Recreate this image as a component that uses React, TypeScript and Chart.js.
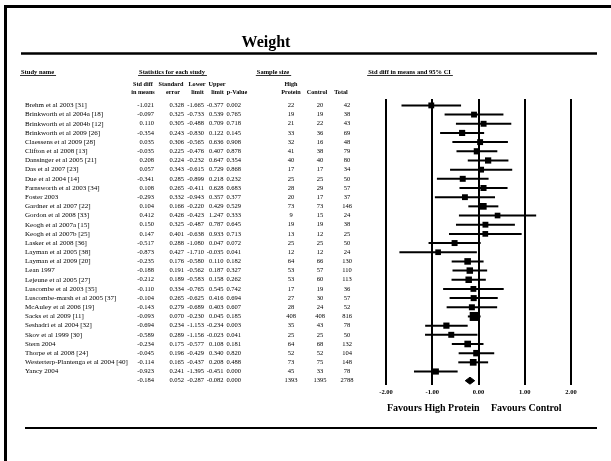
import React, { useEffect, useRef } from "react";
import { Chart, registerables } from "chart.js";

Chart.register(...registerables);

// ---------- data ----------
const studyNames = [
  "Brehm et al 2003 [31]",
  "Brinkworth et al 2004a [18]",
  "Brinkworth et al 2004b [12]",
  "Brinkworth et al 2009 [26]",
  "Claessens et al 2009 [28]",
  "Clifton et al 2008 [13]",
  "Dansinger et al 2005 [21]",
  "Das et al 2007 [23]",
  "Due et al 2004 [14]",
  "Farnsworth et al 2003 [34]",
  "Foster 2003",
  "Gardner et al 2007 [22]",
  "Gordon et al 2008 [33]",
  "Keogh et al 2007a [15]",
  "Keogh et al 2007b [25]",
  "Lasker et al 2008 [36]",
  "Layman et al 2005 [38]",
  "Layman et al 2009 [20]",
  "Lean 1997",
  "Lejeune et al 2005 [27]",
  "Luscombe et al 2003 [35]",
  "Luscombe-marsh et al 2005 [37]",
  "McAuley et al 2006 [19]",
  "Sacks et al 2009 [11]",
  "Seshadri et al 2004 [32]",
  "Skov et al 1999 [30]",
  "Stern 2004",
  "Thorpe et al 2008 [24]",
  "Westerterp-Plantenga et al 2004 [40]",
  "Yancy 2004",
];

const stdDiff = [
  -1.021, -0.097, 0.11, -0.354, 0.035, -0.035, 0.208, 0.057, -0.341, 0.108,
  -0.293, 0.104, 0.412, 0.15, 0.147, -0.517, -0.873, -0.235, -0.188, -0.212,
  -0.11, -0.104, -0.143, -0.093, -0.694, -0.589, -0.234, -0.045, -0.114, -0.923,
];
const stdErr = [
  0.328, 0.325, 0.305, 0.243, 0.306, 0.225, 0.224, 0.343, 0.285, 0.265,
  0.332, 0.166, 0.426, 0.325, 0.401, 0.288, 0.427, 0.176, 0.191, 0.189,
  0.334, 0.265, 0.279, 0.07, 0.234, 0.289, 0.175, 0.196, 0.165, 0.241,
];
const lowerLimit = [
  -1.665, -0.733, -0.488, -0.83, -0.565, -0.476, -0.232, -0.615, -0.899, -0.411,
  -0.943, -0.22, -0.423, -0.487, -0.638, -1.08, -1.71, -0.58, -0.562, -0.583,
  -0.765, -0.625, -0.689, -0.23, -1.153, -1.156, -0.577, -0.429, -0.437, -1.395,
];
const upperLimit = [
  -0.377, 0.539, 0.709, 0.122, 0.636, 0.407, 0.647, 0.729, 0.218, 0.628,
  0.357, 0.429, 1.247, 0.787, 0.933, 0.047, -0.035, 0.11, 0.187, 0.158,
  0.545, 0.416, 0.403, 0.045, -0.234, -0.023, 0.108, 0.34, 0.208, -0.451,
];
const pValue = [
  0.002, 0.765, 0.718, 0.145, 0.908, 0.878, 0.354, 0.868, 0.232, 0.683,
  0.377, 0.529, 0.333, 0.645, 0.713, 0.072, 0.041, 0.182, 0.327, 0.262,
  0.742, 0.694, 0.607, 0.185, 0.003, 0.041, 0.181, 0.82, 0.488, 0.0,
];
const nHighProtein = [
  22, 19, 21, 33, 32, 41, 40, 17, 25, 28, 20, 73, 9, 19, 13, 25, 12, 64, 53, 53,
  17, 27, 28, 408, 35, 25, 64, 52, 73, 45,
];
const nControl = [
  20, 19, 22, 36, 16, 38, 40, 17, 25, 29, 17, 73, 15, 19, 12, 25, 12, 66, 57, 60,
  19, 30, 24, 408, 43, 25, 68, 52, 75, 33,
];
const nTotal = [
  42, 38, 43, 69, 48, 79, 80, 34, 50, 57, 37, 146, 24, 38, 25, 50, 24, 130, 110, 113,
  36, 57, 52, 816, 78, 50, 132, 104, 148, 78,
];

// summary (overall) row: std diff, se, lower, upper, p
const summaryStats = [-0.184, 0.052, -0.287, -0.082, 0.0];
const summaryN = [1393, 1395, 2788];

const xTickValues = [-2, -1, 0, 1, 2];
const xTickLabels = ["-2.00", "-1.00", "0.00", "1.00", "2.00"];

// ---------- styles ----------
const SERIF = '"Liberation Serif", "Times New Roman", serif';
const nameFont = `7px ${SERIF}`;
const numFont = `6.5px ${SERIF}`;
const bold = (s: number) => `bold ${s}px ${SERIF}`;

const tablePlugin = {
  id: "forestTable",
  beforeDraw(chart: any) {
    const ctx: CanvasRenderingContext2D = chart.ctx;
    const ys = chart.scales.y;
    const xs = chart.scales.x;
    ctx.save();
    ctx.fillStyle = "#fff";
    ctx.fillRect(0, 0, chart.width, chart.height);

    // frame
    ctx.strokeStyle = "#000";
    ctx.lineWidth = 3;
    ctx.strokeRect(5.5, 6.5, 700, 600);

    // title
    ctx.fillStyle = "#000";
    ctx.font = bold(16);
    ctx.textAlign = "center";
    ctx.textBaseline = "alphabetic";
    ctx.fillText("Weight", 266, 47);

    ctx.lineWidth = 2.5;
    ctx.beginPath();
    ctx.moveTo(21, 53.5);
    ctx.lineTo(597, 53.5);
    ctx.stroke();

    ctx.lineWidth = 2;
    ctx.beginPath();
    ctx.moveTo(25, 428);
    ctx.lineTo(597, 428);
    ctx.stroke();

    // group headers (underlined)
    ctx.font = bold(6.5);
    ctx.textBaseline = "middle";
    const underlined = (t: string, x: number, align: CanvasTextAlign) => {
      ctx.textAlign = align;
      ctx.fillText(t, x, 72);
      const w = ctx.measureText(t).width;
      let x0 = x;
      if (align === "center") x0 = x - w / 2;
      ctx.lineWidth = 0.8;
      ctx.beginPath();
      ctx.moveTo(x0 - 1, 75.5);
      ctx.lineTo(x0 + w + 2, 75.5);
      ctx.stroke();
    };
    underlined("Study name", 21, "left");
    underlined("Statistics for each study", 172, "center");
    underlined("Sample size", 273, "center");
    underlined("Std diff in means and 95% CI", 409.5, "center");

    // column headers
    ctx.font = bold(6.2);
    ctx.textAlign = "center";
    const h1: [string, number][] = [
      ["Std diff", 143],
      ["Standard", 171],
      ["Lower", 197],
      ["Upper", 217],
      ["High", 291],
    ];
    const h2: [string, number][] = [
      ["in means", 143],
      ["error", 173],
      ["limit", 197.5],
      ["limit", 217.5],
      ["p-Value", 237],
      ["Protein", 291],
      ["Control", 317],
      ["Total", 341],
    ];
    h1.forEach(([t, x]) => ctx.fillText(t, x, 84));
    h2.forEach(([t, x]) => ctx.fillText(t, x, 92.5));

    // rows
    const drawRow = (
      yPix: number,
      name: string,
      stats: number[],
      ns: number[]
    ) => {
      ctx.font = nameFont;
      ctx.textAlign = "left";
      if (name) ctx.fillText(name, 25, yPix);
      ctx.font = numFont;
      ctx.textAlign = "right";
      const rights = [154, 184, 204, 223.5, 241];
      stats.forEach((v, k) => ctx.fillText(v.toFixed(3), rights[k], yPix));
      ctx.textAlign = "center";
      const centers = [291, 320, 347];
      ns.forEach((v, k) => ctx.fillText(String(v), centers[k], yPix));
    };
    studyNames.forEach((name, i) => {
      drawRow(
        ys.getPixelForValue(i),
        name,
        [stdDiff[i], stdErr[i], lowerLimit[i], upperLimit[i], pValue[i]],
        [nHighProtein[i], nControl[i], nTotal[i]]
      );
    });
    drawRow(ys.getPixelForValue(studyNames.length), "", summaryStats, summaryN);

    // x tick labels
    ctx.font = bold(6.5);
    ctx.textAlign = "center";
    xTickValues.forEach((v, k) =>
      ctx.fillText(xTickLabels[k], xs.getPixelForValue(v), 392.5)
    );

    // favours labels
    ctx.font = bold(10);
    ctx.textAlign = "left";
    ctx.fillText("Favours High Protein", 387, 408);
    ctx.fillText("Favours Control", 491, 408);

    ctx.restore();
  },
};

export default function App() {
  const ref = useRef<HTMLCanvasElement | null>(null);

  useEffect(() => {
    if (!ref.current) return;
    const n = studyNames.length;
    const weights = stdErr.map((s) => 1 / (s * s));
    const wMax = Math.max(...weights);
    const sides = weights.map((w) => 5 + 4 * Math.sqrt(w / wMax));

    const ciSets = studyNames.map((_, i) => ({
      type: "scatter" as const,
      data: [
        { x: lowerLimit[i], y: i },
        { x: upperLimit[i], y: i },
      ],
      showLine: true,
      borderColor: "#000",
      borderWidth: 2,
      pointRadius: 0,
      fill: false,
      clip: false as any,
      order: 3,
    }));

    const squareSet = {
      type: "scatter" as const,
      data: stdDiff.map((v, i) => ({ x: v, y: i })),
      pointStyle: "rect",
      pointRadius: sides.map((s) => s / Math.SQRT2),
      pointHoverRadius: sides.map((s) => s / Math.SQRT2),
      backgroundColor: "#000",
      borderColor: "#000",
      borderWidth: 0,
      clip: false as any,
      order: 1,
    };

    const h = 0.38;
    const diamondSet = {
      type: "scatter" as const,
      data: [
        { x: summaryStats[2], y: n },
        { x: summaryStats[0], y: n - h },
        { x: summaryStats[3], y: n },
        { x: summaryStats[0], y: n + h },
        { x: summaryStats[2], y: n },
      ],
      showLine: true,
      fill: "shape",
      backgroundColor: "#000",
      borderColor: "#000",
      borderWidth: 1,
      pointRadius: 0,
      tension: 0,
      clip: false as any,
      order: 0,
    };

    const chart = new Chart(ref.current, {
      type: "scatter",
      data: { datasets: [...ciSets, squareSet, diamondSet] as any },
      options: {
        animation: false,
        responsive: false,
        events: [],
        layout: { padding: { left: 386, right: 40, top: 99, bottom: 76 } },
        plugins: {
          legend: { display: false },
          tooltip: { enabled: false },
          title: { display: false },
        },
        scales: {
          x: {
            type: "linear",
            min: -2,
            max: 2,
            ticks: { display: false, stepSize: 1 },
            afterBuildTicks: (axis: any) => {
              axis.ticks = xTickValues.map((v) => ({ value: v }));
            },
            grid: {
              display: true,
              drawTicks: false,
              color: "#000",
              lineWidth: 2,
            },
            border: { display: false },
          },
          y: {
            type: "linear",
            reverse: true,
            min: -0.7,
            max: n + 0.47,
            display: false,
          },
        },
      },
      plugins: [tablePlugin],
    });
    return () => chart.destroy();
  }, []);

  return (
    <div style={{ position: "absolute", left: 0, top: 0, width: 611, height: 461 }}>
      <canvas ref={ref} width={611} height={461} style={{ display: "block" }} />
    </div>
  );
}
